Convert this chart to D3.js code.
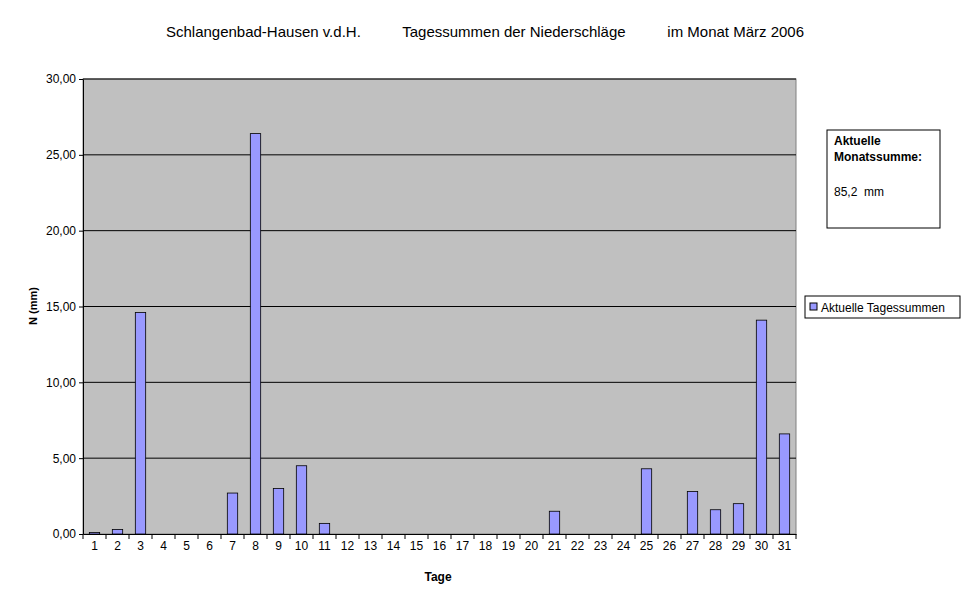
<!DOCTYPE html><html><head><meta charset="utf-8">
<script src="https://cdn.jsdelivr.net/npm/d3@7"></script>
<style>body{margin:0;background:#fff}text{font-family:"Liberation Sans",Arial,sans-serif}</style></head><body>
<svg id="c" width="970" height="604"></svg>
<script>
const days = d3.range(1,32).map(String);
const values = [0.1,0.3,14.6,0,0,0,2.7,26.4,3.0,4.5,0.7,0,0,0,0,0,0,0,0,0,1.5,0,0,0,4.3,0,2.8,1.6,2.0,14.1,6.6];
const yTicks = [0,5,10,15,20,25,30];
const svg = d3.select("#c");
const L=83,R=796,T=79,B=534;
const x = d3.scaleBand().domain(days).range([L,R]).paddingInner(0.55).paddingOuter(0.275);
const xb = d3.scaleBand().domain(days).range([L,R]);
const y = d3.scaleLinear().domain([0,30]).range([B,T]);
svg.append("rect").attr("x",L).attr("y",T).attr("width",R-L).attr("height",B-T).attr("fill","#c0c0c0").attr("stroke","#808080");
svg.selectAll(".g").data(yTicks.slice(1)).enter().append("line").attr("x1",L).attr("x2",R).attr("y1",d=>y(d)).attr("y2",d=>y(d)).attr("stroke","#000");
svg.selectAll(".b").data(values).enter().append("rect").attr("x",(d,i)=>x(days[i])).attr("width",x.bandwidth())
 .attr("y",d=>y(d)).attr("height",d=>B-y(d)).attr("fill","#9999ff").attr("stroke","#000").attr("stroke-width",0.8)
 .style("display",d=>d>0?null:"none");
const fmt = d=>d.toFixed(2).replace(".",",");
const ya = svg.append("g").attr("transform",`translate(${L},0)`).call(d3.axisLeft(y).tickValues(yTicks).tickFormat(fmt).tickSize(4).tickSizeOuter(0));
const xa = svg.append("g").attr("transform",`translate(0,${B})`).call(d3.axisBottom(xb).tickSize(0).tickSizeOuter(0));
xa.selectAll(".tick").append("line").attr("x1",-xb.bandwidth()/2).attr("x2",-xb.bandwidth()/2).attr("y2",5).attr("stroke","#000");
svg.append("line").attr("x1",R).attr("x2",R).attr("y1",B).attr("y2",B+5).attr("stroke","#000");
[ya,xa].forEach(a=>{a.selectAll("text").attr("font-size",12).attr("fill","#000").style("font-family","Liberation Sans, Arial");a.select(".domain").attr("stroke","#000");});
xa.selectAll("text").attr("dy","1.05em");
svg.append("text").attr("x",485).attr("y",37).attr("text-anchor","middle").attr("font-size",15).attr("xml:space","preserve")
 .text("Schlangenbad-Hausen v.d.H.          Tagessummen der Niederschläge          im Monat März 2006");
svg.append("text").attr("x",438).attr("y",581).attr("text-anchor","middle").attr("font-size",12).attr("font-weight","bold").text("Tage");
svg.append("text").attr("transform","translate(37,306) rotate(-90)").attr("text-anchor","middle").attr("font-size",11).attr("font-weight","bold").text("N (mm)");
svg.append("rect").attr("x",827).attr("y",130).attr("width",113).attr("height",98).attr("fill","#fff").attr("stroke","#000");
svg.append("text").attr("x",834).attr("y",145).attr("font-size",12).attr("font-weight","bold").text("Aktuelle");
svg.append("text").attr("x",834).attr("y",161).attr("font-size",12).attr("font-weight","bold").text("Monatssumme:");
svg.append("text").attr("x",834).attr("y",196).attr("font-size",12).attr("xml:space","preserve").text("85,2  mm");
svg.append("rect").attr("x",805).attr("y",296).attr("width",155).attr("height",22).attr("fill","#fff").attr("stroke","#000");
svg.append("rect").attr("x",810).attr("y",303).attr("width",7).attr("height",7).attr("fill","#9999ff").attr("stroke","#000");
svg.append("text").attr("x",821).attr("y",312).attr("font-size",12).text("Aktuelle Tagessummen");
</script></body></html>
